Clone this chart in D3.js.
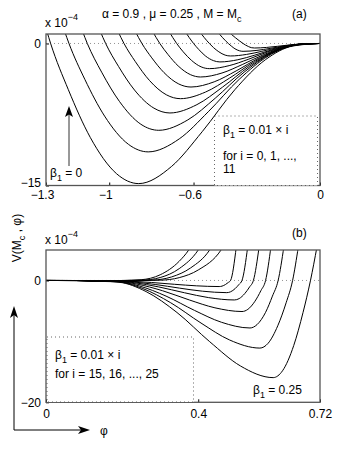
<!DOCTYPE html>
<html><head><meta charset="utf-8">
<script src="https://cdn.jsdelivr.net/npm/d3@7"></script>
<style>
body{margin:0;background:#fff}
svg{display:block}
text{font-family:"Liberation Sans",Arial,Helvetica,sans-serif;fill:#000}
</style>
</head><body>
<svg id="chart" width="354" height="453"></svg>
<script>
// ---------- data ----------
// panel (a): beta1 = 0.01*i, i = 0..11 ; points [phi, V (x1e-4)]
const betaA = [0.00,0.01,0.02,0.03,0.04,0.05,0.06,0.07,0.08,0.09,0.10,0.11];
const curvesA = [
 [[-1.296,1.3],[-1.278,0],[-1.194,-4.88],[-1.090,-9.92],[-0.965,-13.76],[-0.860,-14.8],[-0.705,-13.0],[-0.559,-9.32],[-0.404,-4.88],[-0.258,-1.70],[-0.129,-0.27],[0,0]],
 [[-1.212,1.3],[-1.191,0],[-1.116,-3.78],[-1.022,-7.67],[-0.909,-10.65],[-0.815,-11.45],[-0.668,-10.08],[-0.530,-7.21],[-0.383,-3.78],[-0.245,-1.32],[-0.122,-0.21],[0,0]],
 [[-1.127,1.3],[-1.104,0],[-1.036,-3.03],[-0.951,-6.14],[-0.850,-8.53],[-0.765,-9.17],[-0.627,-8.07],[-0.497,-5.78],[-0.360,-3.03],[-0.230,-1.05],[-0.115,-0.17],[0,0]],
 [[-1.043,1.3],[-1.017,0],[-0.956,-2.42],[-0.880,-4.92],[-0.788,-6.83],[-0.712,-7.34],[-0.584,-6.46],[-0.463,-4.62],[-0.335,-2.42],[-0.214,-0.84],[-0.107,-0.13],[0,0]],
 [[-0.959,1.3],[-0.930,0],[-0.876,-1.92],[-0.809,-3.91],[-0.729,-5.42],[-0.662,-5.83],[-0.543,-5.13],[-0.430,-3.67],[-0.311,-1.92],[-0.199,-0.67],[-0.099,-0.10],[0,0]],
 [[-0.877,1.3],[-0.845,0],[-0.798,-1.52],[-0.740,-3.08],[-0.670,-4.28],[-0.612,-4.60],[-0.502,-4.05],[-0.398,-2.90],[-0.288,-1.52],[-0.184,-0.53],[-0.092,-0.08],[0,0]],
 [[-0.795,1.3],[-0.760,0],[-0.721,-1.17],[-0.673,-2.37],[-0.615,-3.29],[-0.567,-3.54],[-0.465,-3.12],[-0.369,-2.23],[-0.266,-1.17],[-0.170,-0.41],[-0.085,-0.06],[0,0]],
 [[-0.717,1.3],[-0.680,0],[-0.649,-0.88],[-0.610,-1.78],[-0.564,-2.47],[-0.525,-2.66],[-0.431,-2.34],[-0.341,-1.68],[-0.247,-0.88],[-0.158,-0.31],[-0.079,-0.05],[0,0]],
 [[-0.641,1.3],[-0.600,0],[-0.575,-0.64],[-0.544,-1.31],[-0.506,-1.81],[-0.475,-1.95],[-0.390,-1.72],[-0.309,-1.23],[-0.223,-0.64],[-0.143,-0.22],[-0.071,-0.035],[0,0]],
 [[-0.573,1.3],[-0.525,0],[-0.505,-0.44],[-0.480,-0.88],[-0.450,-1.23],[-0.425,-1.32],[-0.349,-1.16],[-0.276,-0.83],[-0.200,-0.44],[-0.128,-0.15],[-0.064,-0.02],[0,0]],
 [[-0.489,1.3],[-0.435,0],[-0.421,-0.27],[-0.4035,-0.56],[-0.3825,-0.77],[-0.365,-0.83],[-0.299,-0.73],[-0.237,-0.52],[-0.172,-0.27],[-0.110,-0.095],[-0.055,-0.015],[0,0]],
 [[-0.438,1.3],[-0.365,0],[-0.354,-0.16],[-0.340,-0.32],[-0.324,-0.45],[-0.310,-0.48],[-0.254,-0.42],[-0.2015,-0.30],[-0.146,-0.16],[-0.093,-0.055],[-0.047,-0.009],[0,0]]
];
// panel (b): beta1 = 0.01*i, i = 15..25
const betaB = [0.15,0.16,0.17,0.18,0.19,0.20,0.21,0.22,0.23,0.24,0.25];
const curvesB = [
 [[0,0],[0.08,-0.02],[0.13,-0.12],[0.17,-0.10],[0.20,0],[0.25,0.12],[0.30,0.93],[0.35,3.15],[0.375,5.0],[0.385,6.0]],
 [[0,0],[0.08,-0.02],[0.13,-0.13],[0.18,-0.14],[0.215,0],[0.25,0.034],[0.30,0.48],[0.35,1.94],[0.40,5.0],[0.41,6.0]],
 [[0,0],[0.08,-0.02],[0.13,-0.14],[0.19,-0.18],[0.235,0],[0.28,0.06],[0.33,0.58],[0.38,2.06],[0.43,5.0],[0.44,6.0]],
 [[0,0],[0.08,-0.02],[0.14,-0.15],[0.21,-0.22],[0.26,0],[0.30,0.04],[0.35,0.46],[0.40,1.72],[0.46,5.0],[0.47,6.0]],
 [[0,0],[0.10,-0.01],[0.170,-0.02],[0.220,-0.115],[0.277,-0.33],[0.338,-0.63],[0.395,-0.88],[0.455,-1.00],[0.4625,-0.93],[0.4715,-0.67],[0.479,-0.33],[0.485,0],[0.500,5.5]],
 [[0,0],[0.10,-0.01],[0.173,-0.04],[0.227,-0.23],[0.287,-0.66],[0.351,-1.26],[0.411,-1.76],[0.475,-2.00],[0.485,-1.86],[0.497,-1.34],[0.507,-0.66],[0.515,0],[0.530,5.5]],
 [[0,0],[0.10,-0.01],[0.176,-0.06],[0.2325,-0.37],[0.296,-1.06],[0.364,-2.02],[0.4275,-2.82],[0.495,-3.20],[0.5075,-2.98],[0.5225,-2.14],[0.535,-1.06],[0.545,0],[0.560,5.5]],
 [[0,0],[0.10,-0.01],[0.179,-0.09],[0.2385,-0.59],[0.306,-1.68],[0.377,-3.21],[0.444,-4.49],[0.515,-5.10],[0.5305,-4.74],[0.549,-3.42],[0.5646,-1.68],[0.577,0],[0.591,5.5]],
 [[0,0],[0.10,-0.01],[0.182,-0.14],[0.245,-0.90],[0.3155,-2.57],[0.390,-4.91],[0.461,-6.86],[0.536,-7.80],[0.5545,-7.25],[0.577,-5.23],[0.595,-2.57],[0.610,0],[0.625,5.5]],
 [[0,0],[0.10,-0.01],[0.1863,-0.20],[0.2526,-1.28],[0.3277,-3.66],[0.4073,-6.99],[0.4824,-9.77],[0.562,-11.10],[0.5835,-10.32],[0.609,-7.44],[0.631,-3.66],[0.648,0],[0.663,5.5]],
 [[0,0],[0.10,-0.01],[0.1916,-0.29],[0.2631,-1.83],[0.3442,-5.26],[0.4301,-10.05],[0.5111,-14.04],[0.597,-15.95],[0.6215,-14.83],[0.6509,-10.69],[0.6754,-5.26],[0.695,0],[0.712,5.5]]
];
const xTicksA = [-1.3,-1,-0.6,0], yTicksA = [-15,0];
const xTicksB = [0,0.4,0.72],   yTicksB = [-20,0];

// ---------- layout ----------
const svg = d3.select("#chart");
const L = 46, R = 320;
const xA = d3.scaleLinear().domain([-1.3,0]).range([L,R]);
const yA = d3.scaleLinear().domain([-15,1]).range([185.5,34]);
const xB = d3.scaleLinear().domain([0,0.72]).range([L,R]);
const yB = d3.scaleLinear().domain([-20,5]).range([402.3,250]);
const fmt = d => d3.format("")(d).replace("-", "\u2212");

function panel(id, x, y, curves, xt, yt, xPad){
  const g = svg.append("g");
  const [x0,x1] = x.range(), [y1,y0] = y.range();
  g.append("clipPath").attr("id","clip"+id).append("rect")
    .attr("x",x0).attr("y",y0).attr("width",x1-x0).attr("height",y1-y0);
  g.append("line").attr("x1",x0).attr("x2",x1).attr("y1",y(0)).attr("y2",y(0))
    .attr("stroke","#777").attr("stroke-width",0.8).attr("stroke-dasharray","1,3");
  const line = d3.line().x(d=>x(d[0])).y(d=>y(d[1])).curve(d3.curveMonotoneX);
  g.append("g").attr("clip-path",`url(#clip${id})`).selectAll("path").data(curves).join("path")
    .attr("d",line).attr("fill","none").attr("stroke","#000").attr("stroke-width",1);
  const ax = g.append("g").attr("transform",`translate(0,${y1})`)
    .call(d3.axisBottom(x).tickValues(xt).tickFormat(fmt).tickSizeInner(-3).tickSizeOuter(0).tickPadding(xPad));
  const ay = g.append("g").attr("transform",`translate(${x0},0)`)
    .call(d3.axisLeft(y).tickValues(yt).tickFormat(fmt).tickSizeInner(-3).tickSizeOuter(0).tickPadding(5));
  [ax,ay].forEach(a=>{a.select(".domain").remove();
    a.selectAll("text").attr("font-size",12).attr("font-family","Liberation Sans, Arial, sans-serif");
    a.selectAll("line").attr("stroke","#000");});
  ax.selectAll("text").attr("dx", d => d < 0 ? -4 : 0);
  g.append("rect").attr("x",x0).attr("y",y0).attr("width",x1-x0).attr("height",y1-y0)
    .attr("fill","none").attr("stroke","#555").attr("stroke-width",1.3);
  return {ax, ay};
}

const pA = panel("A", xA, yA, curvesA, xTicksA, yTicksA, 5);
const pB = panel("B", xB, yB, curvesB, xTicksB, yTicksB, 7.5);
pA.ay.selectAll("text").attr("dy", d => d < 0 ? "0.1em" : "0.32em");

function sub(t, main, s, rest, small){
  t.append("tspan").text(main);
  t.append("tspan").attr("dy",4).attr("font-size",small||9).text(s);
  t.append("tspan").attr("dy",-4).text(rest);
  return t;
}
// title
sub(svg.append("text").attr("x",102).attr("y",18).attr("font-size",12), "\u03b1 = 0.9 , \u03bc = 0.25 , M = M", "c", "");
svg.append("text").attr("x",292).attr("y",18).attr("font-size",12).text("(a)");
svg.append("text").attr("x",292).attr("y",237).attr("font-size",12).text("(b)");
[27,244].forEach(yy=>{
  const t = svg.append("text").attr("x",45).attr("y",yy).attr("font-size",12);
  t.append("tspan").text("x 10");
  t.append("tspan").attr("dy",-7).attr("font-size",9).text("\u22124");
});

// inset box (a)
svg.append("rect").attr("x",214.5).attr("y",116).attr("width",103).attr("height",69.5)
  .attr("fill","#fff").attr("stroke","#555").attr("stroke-width",0.9).attr("stroke-dasharray","1,3");
sub(svg.append("text").attr("x",223).attr("y",134).attr("font-size",12), "\u03b2", "1", " = 0.01 \u00d7 i");
svg.append("text").attr("x",223).attr("y",159.5).attr("font-size",12).text("for i = 0, 1, ...,");
svg.append("text").attr("x",223).attr("y",172.5).attr("font-size",12).text("11");
// beta=0 annotation (a)
sub(svg.append("text").attr("x",50).attr("y",177).attr("font-size",12), "\u03b2", "1", " = 0");
svg.append("line").attr("x1",69).attr("x2",69).attr("y1",166).attr("y2",112).attr("stroke","#333").attr("stroke-width",1);
svg.append("path").attr("d","M69,106 L65,117 L69,114.5 L73,117 Z").attr("fill","#000");

// inset box (b)
svg.append("rect").attr("x",47).attr("y",337).attr("width",146.5).attr("height",65)
  .attr("fill","#fff").attr("stroke","#555").attr("stroke-width",0.9).attr("stroke-dasharray","1,3");
sub(svg.append("text").attr("x",55).attr("y",359).attr("font-size",12), "\u03b2", "1", " = 0.01 \u00d7 i");
svg.append("text").attr("x",55).attr("y",377.5).attr("font-size",12).text("for i = 15, 16, ..., 25");
sub(svg.append("text").attr("x",253).attr("y",394).attr("font-size",12), "\u03b2", "1", " = 0.25");

// y label (b)
const yl = svg.append("text").attr("transform","translate(21,238) rotate(-90)").attr("text-anchor","middle").attr("font-size",12);
sub(yl, "V(M", "c", " , \u03c6)");

// bottom-left arrows
svg.append("path").attr("d","M14,430 L14,314 M14,430 L82,430").attr("stroke","#000").attr("stroke-width",1).attr("fill","none");
svg.append("path").attr("d","M14,306 L10,318 L14,315 L18,318 Z").attr("fill","#000");
svg.append("path").attr("d","M90,430 L78,426 L81,430 L78,434 Z").attr("fill","#000");
svg.append("text").attr("x",100).attr("y",434.5).attr("font-size",12).text("\u03c6");
</script>
</body></html>
